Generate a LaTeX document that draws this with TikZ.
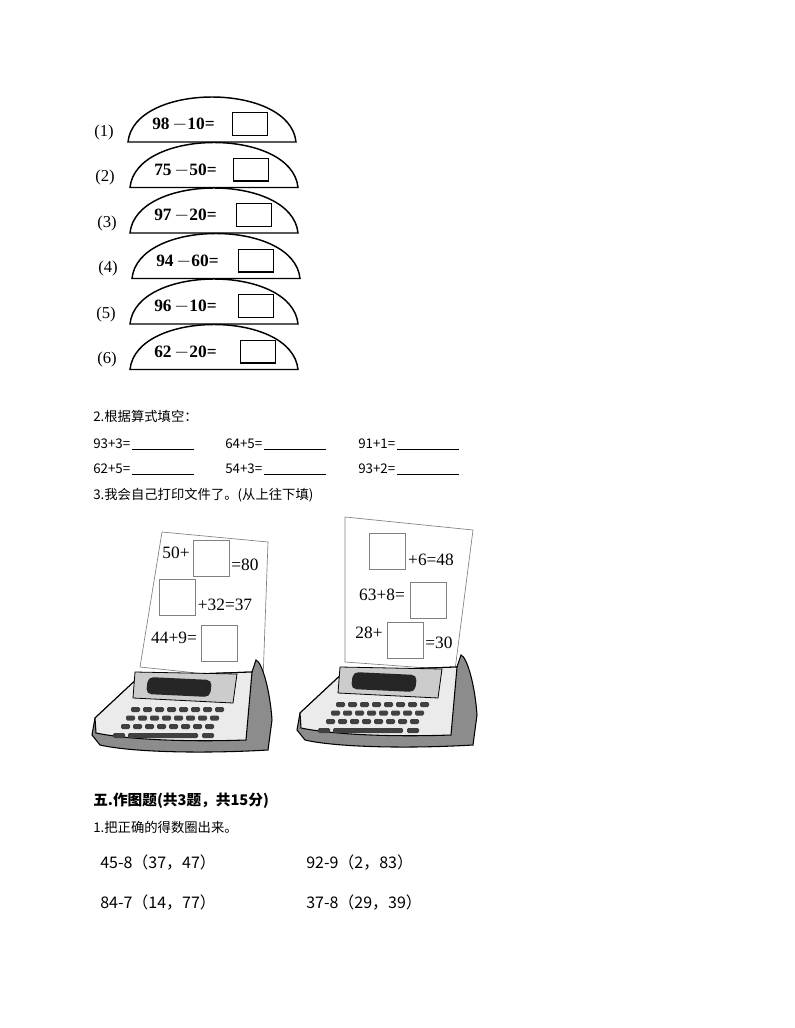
\documentclass[tikz,border=0pt]{standalone}
\usepackage{fontspec}
\setmainfont{Liberation Serif}
\newfontfamily\cjk{Noto Sans CJK SC}
\newcommand{\mymin}{\,{\fontsize{15}{12}\selectfont$-$}}
\begin{document}
\begin{tikzpicture}[x=0.75pt,y=-0.75pt,
  arcshape/.style={draw,line width=1.1pt,fill=white},
  ansbox/.style={draw,line width=1pt,minimum width=26pt,minimum height=17pt,inner sep=0pt},
  lab/.style={font=\fontsize{12.5}{12}\selectfont,anchor=center},
  eq/.style={font=\fontsize{13}{12}\selectfont\bfseries,anchor=west,inner sep=0pt},
  sboxx/.style={draw,gray,line width=0.5pt,minimum width=27pt,minimum height=27pt,inner sep=0pt},
  ptxt/.style={font=\fontsize{13}{13}\selectfont,inner sep=0pt},
  body/.style={font=\cjk\fontsize{10}{10}\selectfont,anchor=west,inner sep=0pt},
  key/.style={fill=black!75,rounded corners=1pt}]
\useasboundingbox (0,0) rectangle (794,1028);
% arcs
\foreach \i/\lx/\ax/\bx/\t [count=\n] in {1/104/128/232/98\mymin10=,2/105/130/233/75\mymin50=,3/107/130/236/97\mymin20=,4/108/132/238/94\mymin60=,5/106/130/238/96\mymin10=,6/107/130/240/62\mymin20=}{
  \pgfmathsetmacro\yb{142+45.5*(\n-1)}
  \path[arcshape] (\ax,\yb) .. controls (\ax+6,\yb-60) and (\ax+162,\yb-60) .. (\ax+168,\yb) -- cycle;
  \node[lab] (l\n) at (\lx,\yb-10) {(\i)};
  \node[eq] (e\n) at (\ax+24,\yb-17) {\t};
  \node[ansbox,anchor=west] (b\n) at (\bx,\yb-18) {};
}
% section 2
\node[body] (s2) at (93,416) {2.根据算式填空：};
\foreach \t/\x/\y [count=\n] in {93+3=/93/444,64+5=/225/444,91+1=/358/444,62+5=/93/469,54+3=/225/469,93+2=/358/469}{
  \node[body] (f\n) at (\x,\y) {\t};
  \draw[line width=0.5pt] ([xshift=1pt]f\n.south east) -- ++(62,0);
}
\node[body] (s3) at (93,495) {3.我会自己打印文件了。(从上往下填)};
% left paper
\path[fill=white,draw=gray,line width=0.5pt] (162,532) -- (268,542) -- (263,680) -- (140,667) -- cycle;
\node[ptxt] (p1a) at (176,553) {50+};
\node[sboxx] (p1b) at (211,558) {};
\node[ptxt] (p1c) at (245,565) {=80};
\node[sboxx] (p1d) at (177,597) {};
\node[ptxt] (p1e) at (225,605) {+32=37};
\node[ptxt] (p1f) at (174,638) {44+9=};
\node[sboxx] (p1g) at (219,643) {};
% right paper
\path[fill=white,draw=gray,line width=0.5pt] (345,517) -- (473,530) -- (455,670) -- (345,662) -- cycle;
\node[sboxx] (p2a) at (387,551) {};
\node[ptxt] (p2b) at (431,560) {+6=48};
\node[ptxt] (p2c) at (382,595) {63+8=};
\node[sboxx] (p2d) at (428,600) {};
\node[ptxt] (p2e) at (369,633) {28+};
\node[sboxx] (p2f) at (405,640) {};
\node[ptxt] (p2g) at (439,643) {=30};
% printers
\foreach \dx/\dy in {0/0,205/-5}{
\begin{scope}[shift={(\dx,\dy)}]
  \path[fill=black!45,draw=black,line width=0.8pt] (140,676) -- (252,672) -- (256,660) .. controls (262,662) and (270,690) .. (272,720) -- (268,750) .. controls (200,754) and (130,752) .. (100,745) -- (92,735) -- (95,718) -- cycle;
  \path[fill=black!8,draw=black,line width=0.8pt] (140,676) -- (252,672) -- (246,740) .. controls (190,742) and (130,740) .. (96,733) -- (95,718) -- cycle;
  \path[fill=black!20,draw=black,line width=0.6pt] (135,672) -- (237,674) -- (233,703) -- (133,698) -- cycle;
  \path[fill=black!85,rounded corners=4pt] (148,677) -- (212,680) -- (210,697) -- (146,694) -- cycle;
  \foreach \r in {0,1,2}{
    \foreach \k in {0,...,7}{
      \fill[key] (131-5*\r+12*\k, 707+8.5*\r) rectangle ++(9,5);
    }
  }
  \fill[key] (113,733) rectangle ++(12,5);
  \fill[key] (128,733) rectangle ++(70,5);
  \fill[key] (202,733) rectangle ++(12,5);
\end{scope}}
% section 5
\node[body,font=\cjk\bfseries\fontsize{11}{11}\selectfont] (s5) at (93,801) {五.作图题(共3题，共15分)};
\node[body] (s51) at (93,827) {1.把正确的得数圈出来。};
\node[body,font=\cjk\fontsize{12}{12}\selectfont] (q1) at (100,862) {45-8（37，47）};
\node[body,font=\cjk\fontsize{12}{12}\selectfont] (q2) at (306,862) {92-9（2，83）};
\node[body,font=\cjk\fontsize{12}{12}\selectfont] (q3) at (100,902) {84-7（14，77）};
\node[body,font=\cjk\fontsize{12}{12}\selectfont] (q4) at (306,902) {37-8（29，39）};
\end{tikzpicture}
\end{document}
